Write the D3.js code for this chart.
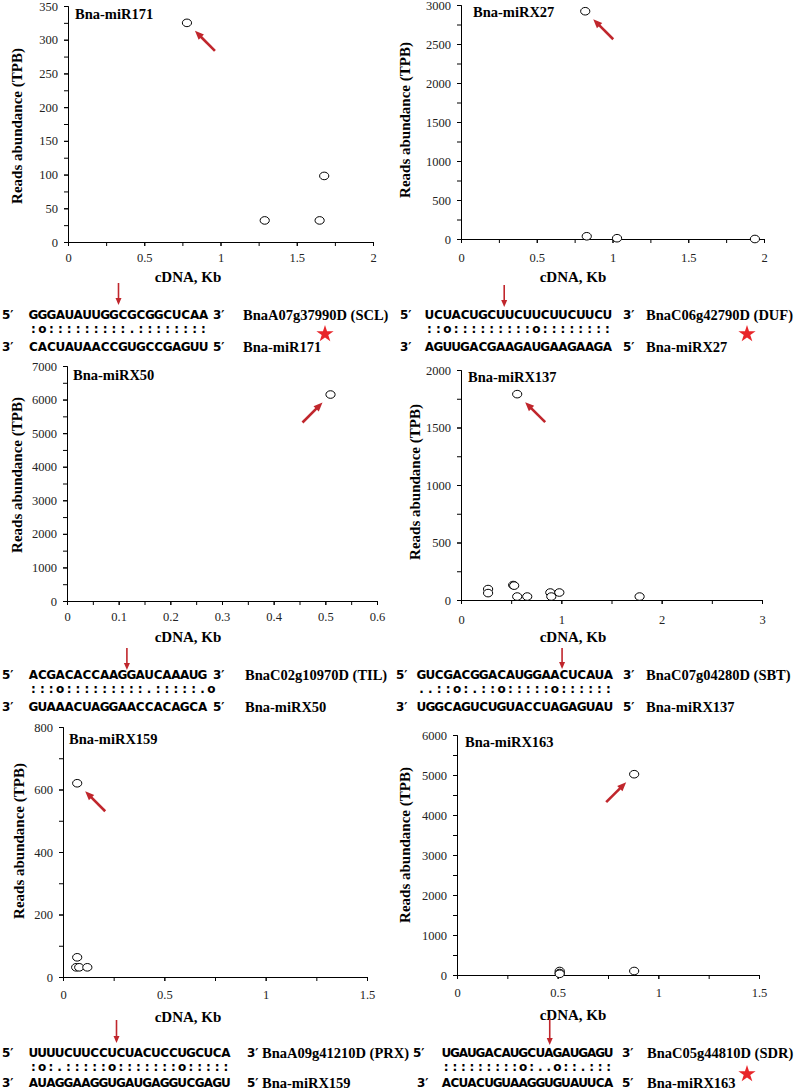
<!DOCTYPE html>
<html>
<head>
<meta charset="utf-8">
<script src="https://cdn.jsdelivr.net/npm/d3@7"></script>
<style>
body { margin: 0; background: #fff; }
.axis text { font-family: "Liberation Serif", serif; font-size: 12.5px; fill: #222; }
.axis path, .axis line { stroke: #000; stroke-width: 1; }
.title { font-family: "Liberation Serif", serif; font-weight: bold; font-size: 14.5px; }
.axis-text { font-family: "Liberation Serif", serif; font-weight: bold; font-size: 15px; }
.seq { font-family: "DejaVu Sans", sans-serif; font-weight: bold; font-size: 12px; }
.gene { font-family: "Liberation Serif", serif; font-weight: bold; font-size: 14.5px; }
</style>
</head>
<body>
<div class="chart"></div>
<script>
// chart values, one entry per panel
var titles = ["Bna-miR171", "Bna-miRX27", "Bna-miRX50", "Bna-miRX137", "Bna-miRX159", "Bna-miRX163"];
var xMaxes = [2, 2, 0.6, 3, 1.5, 1.5];
var yMaxes = [350, 3000, 7000, 2000, 800, 6000];
var xSteps = [0.5, 0.5, 0.1, 1, 0.5, 0.5];
var ySteps = [50, 500, 1000, 500, 200, 1000];

var cdnaKb = [
  [0.78, 1.29, 1.65, 1.68],
  [0.82, 0.83, 1.03, 1.94],
  [0.51],
  [0.56, 0.27, 0.27, 0.52, 0.53, 0.56, 0.66, 0.89, 0.90, 0.98, 1.78],
  [0.07, 0.07, 0.065, 0.08, 0.12],
  [0.88, 0.88, 0.51, 0.51, 0.51]
];
var readsTPB = [
  [325, 32, 32, 98],
  [2920, 35, 10, 0],
  [6150],
  [1790, 95, 60, 130, 125, 30, 30, 65, 30, 65, 30],
  [620, 63, 31, 31, 31],
  [5020, 100, 100, 50, 30]
];

// target / miRNA alignments
var targetSeq = ["GGGAUAUUGGCGCGGCUCAA", "UCUACUGCUUCUUCUUCUUCU", "ACGACACCAAGGAUCAAAUG",
  "GUCGACGGACAUGGAACUCAUA", "UUUUCUUCCUCUACUCCUGCUCA", "UGAUGACAUGCUAGAUGAGU"];
var matchStr = [":o:::::::::.::::::::", "::o:::::::::o::::::::", ":::o:::::::::.:::::.o",
  "..::o:.::o:::::o::::::", ":o:.:::::o:::::::o:::::", ":::::::::o:..o::.:::"];
var mirnaSeq = ["CACUAUAACCGUGCCGAGUU", "AGUUGACGAAGAUGAAGAAGA", "GUAAACUAGGAACCACAGCA",
  "UGGCAGUCUGUACCUAGAGUAU", "AUAGGAAGGUGAUGAGGUCGAGU", "ACUACUGUAAGGUGUAUUCA"];
var targetGene = ["BnaA07g37990D (SCL)", "BnaC06g42790D (DUF)", "BnaC02g10970D (TIL)",
  "BnaC07g04280D (SBT)", "BnaA09g41210D (PRX)", "BnaC05g44810D (SDR)"];
var cleaveAt = [10, 8.9, 11, 16.3, 10, 12.6];
var starred = [true, true, false, false, false, true];

// layout of each panel
var layout = [
  {l: 68, r: 373, b: 242, t: 6, xlabY: 262, cdnaX: 188, cdnaY: 282, ylab: [17, 126], tx: 75, ty: 19, side: 1,
   p5: 2, p3b: 2, sx: 29, pitch: 8.95, p3: 213, nx: 243, ys: 315, ym: 330, yb: 347, a0: 283, a1: 305, star: [325, 333]},
  {l: 461, r: 764, b: 239, t: 5, xlabY: 262, cdnaX: 573, cdnaY: 282, ylab: [405, 120], tx: 473, ty: 17, side: 1,
   p5: 400, p3b: 400, sx: 425, pitch: 8.9, p3: 623, nx: 646, ys: 315, ym: 330, yb: 347, a0: 285, a1: 307, star: [747, 333]},
  {l: 67, r: 377, b: 601, t: 366, xlabY: 621, cdnaX: 188, cdnaY: 642, ylab: [17, 475], tx: 73, ty: 380, side: -1,
   p5: 2, p3b: 2, sx: 29, pitch: 8.9, p3: 213, nx: 245, ys: 675, ym: 690, yb: 707, a0: 648, a1: 670},
  {l: 461, r: 762, b: 600, t: 370, xlabY: 624, cdnaX: 573, cdnaY: 642, ylab: [415, 482], tx: 468, ty: 382, side: 1,
   p5: 396, p3b: 396, sx: 417, pitch: 8.9, p3: 623, nx: 646, ys: 675, ym: 690, yb: 707, a0: 648, a1: 669},
  {l: 63, r: 367, b: 977, t: 727, xlabY: 999, cdnaX: 188, cdnaY: 1022, ylab: [19, 841], tx: 69, ty: 744, side: 1,
   p5: 2, p3b: 2, sx: 29, pitch: 8.75, p3: 247, nx: 262, ys: 1053, ym: 1068, yb: 1083, a0: 1020, a1: 1043},
  {l: 457, r: 759, b: 975, t: 735, xlabY: 997, cdnaX: 573, cdnaY: 1020, ylab: [405, 845], tx: 465, ty: 747, side: -1,
   p5: 413, p3b: 417, sx: 442, pitch: 8.55, p3: 622, nx: 647, ys: 1053, ym: 1068, yb: 1083, a0: 1018, a1: 1045, star: [747, 1073]}
];

var red = "#c0262c";

var svg = d3.select(".chart")
  .append("svg")
  .attr("width", 800)
  .attr("height", 1092)
  .style("display", "block");

svg.append("rect").attr("width", 800).attr("height", 1092).attr("fill", "#fff");

function arrow(g, x1, y1, x2, y2, w, headLen, headW) {
  var dx = x2 - x1, dy = y2 - y1;
  var len = Math.sqrt(dx * dx + dy * dy);
  var ux = dx / len, uy = dy / len;
  var bx = x2 - ux * headLen, by = y2 - uy * headLen;
  g.append("line")
    .attr("x1", x1).attr("y1", y1)
    .attr("x2", bx + ux).attr("y2", by + uy)
    .attr("stroke", red).attr("stroke-width", w);
  g.append("polygon")
    .attr("points", [[x2, y2], [bx - uy * headW / 2, by + ux * headW / 2], [bx + uy * headW / 2, by - ux * headW / 2]].join(" "))
    .attr("fill", red);
}

function ticksFor(max, step) {
  var n = Math.round(max / step);
  return d3.range(n + 1).map(function(i) { return +(i * step).toFixed(6); });
}

layout.forEach(function(L, p) {
  var g = svg.append("g");

  var x = d3.scaleLinear().domain([0, xMaxes[p]]).range([L.l, L.r]);
  var y = d3.scaleLinear().domain([0, yMaxes[p]]).range([L.b, L.t]);
  var fmt = d3.format("~g");

  // minor ticks
  g.append("g").attr("class", "axis")
    .attr("transform", "translate(0," + L.b + ")")
    .call(d3.axisBottom(x).tickValues(ticksFor(xMaxes[p], xSteps[p] / 2)).tickSize(4).tickFormat(""));
  g.append("g").attr("class", "axis")
    .attr("transform", "translate(" + L.l + ",0)")
    .call(d3.axisLeft(y).tickValues(ticksFor(yMaxes[p], ySteps[p] / 2)).tickSize(4).tickFormat(""));

  // major ticks + labels
  var xa = g.append("g").attr("class", "axis")
    .attr("transform", "translate(0," + L.b + ")")
    .call(d3.axisBottom(x).tickValues(ticksFor(xMaxes[p], xSteps[p])).tickSize(4).tickSizeOuter(0).tickFormat(fmt));
  xa.selectAll("text").attr("y", L.xlabY - L.b).attr("dy", "0");
  g.append("g").attr("class", "axis")
    .attr("transform", "translate(" + L.l + ",0)")
    .call(d3.axisLeft(y).tickValues(ticksFor(yMaxes[p], ySteps[p])).tickSize(4).tickSizeOuter(0).tickPadding(6).tickFormat(fmt));

  // points
  var pts = cdnaKb[p].map(function(v, i) { return {x: v, y: readsTPB[p][i]}; });
  g.selectAll("ellipse")
    .data(pts)
    .enter()
    .append("ellipse")
    .attr("cx", function(d) { return x(d.x); })
    .attr("cy", function(d) { return y(d.y); })
    .attr("rx", 4.6)
    .attr("ry", 3.8)
    .attr("fill", "#fff")
    .attr("stroke", "#000")
    .attr("stroke-width", 1);

  // arrow to the highest point
  var top = pts[d3.maxIndex(pts, function(d) { return d.y; })];
  var px = x(top.x), py = y(top.y);
  arrow(g, px + L.side * 28, py + 28, px + L.side * 8, py + 8, 2.6, 9, 7.5);

  // titles and axis labels
  g.append("text").attr("class", "title").attr("x", L.tx).attr("y", L.ty).text(titles[p]);
  g.append("text").attr("class", "axis-text")
    .attr("transform", "translate(" + L.ylab[0] + "," + L.ylab[1] + ") rotate(-90)")
    .attr("text-anchor", "middle").attr("dy", "0.35em")
    .text("Reads abundance (TPB)");
  g.append("text").attr("class", "axis-text")
    .attr("x", L.cdnaX).attr("y", L.cdnaY)
    .attr("text-anchor", "middle")
    .text("cDNA, Kb");

  // alignment block
  var rows = [
    {s: targetSeq[p], yc: L.ys, off: 4.3},
    {s: matchStr[p], yc: L.ym, off: 3.4},
    {s: mirnaSeq[p], yc: L.yb, off: 4.3}
  ];
  rows.forEach(function(row) {
    g.append("g").selectAll("text")
      .data(row.s.split(""))
      .enter()
      .append("text")
      .attr("class", "seq")
      .attr("text-anchor", "middle")
      .attr("x", function(d, i) { return L.sx + (i + 0.5) * L.pitch; })
      .attr("y", row.yc + row.off)
      .text(function(d) { return d; });
  });
  g.append("text").attr("class", "seq").attr("x", L.p5).attr("y", L.ys + 4.3).text("5\u2032");
  g.append("text").attr("class", "seq").attr("x", L.p3).attr("y", L.ys + 4.3).text("3\u2032");
  g.append("text").attr("class", "gene").attr("x", L.nx).attr("y", L.ys + 4.8).text(targetGene[p]);
  g.append("text").attr("class", "seq").attr("x", L.p3b).attr("y", L.yb + 4.3).text("3\u2032");
  g.append("text").attr("class", "seq").attr("x", L.p3).attr("y", L.yb + 4.3).text("5\u2032");
  g.append("text").attr("class", "gene").attr("x", L.nx).attr("y", L.yb + 4.8).text(titles[p]);

  var ax = L.sx + cleaveAt[p] * L.pitch;
  arrow(g, ax, L.a0, ax, L.a1, 1.6, 7, 6);

  if (starred[p]) {
    g.append("path")
      .attr("d", d3.symbol(d3.symbolStar, 92)())
      .attr("transform", "translate(" + L.star[0] + "," + (L.star[1] + 1) + ")")
      .attr("fill", "#e8262a");
  }
});
</script>
</body>
</html>
